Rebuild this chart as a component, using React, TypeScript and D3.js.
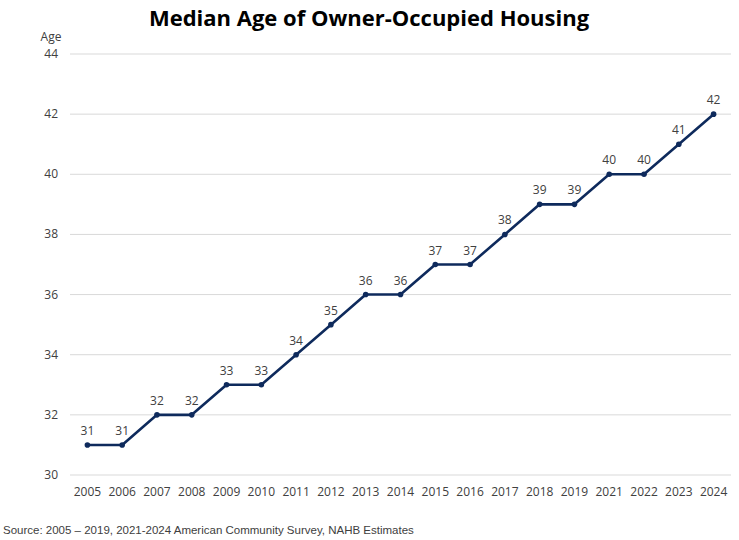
import React from "react";
import * as d3 from "d3";

const years = ["2005","2006","2007","2008","2009","2010","2011","2012","2013","2014","2015","2016","2017","2018","2019","2021","2022","2023","2024"];
const ages = [31,31,32,32,33,33,34,35,36,36,37,37,38,39,39,40,40,41,42];
const yTicks = [30,32,34,36,38,40,42,44];

const W = 739, H = 540;
const left = 70, right = 731, top = 54, bottom = 475;
const font = "Open Sans, Lato, sans-serif";

export default function App() {
  const x = d3.scaleBand<string>().domain(years).range([left, right]).paddingInner(0).paddingOuter(0);
  const y = d3.scaleLinear().domain([30, 44]).range([bottom, top]);
  const cx = (d: string) => (x(d) as number) + x.bandwidth() / 2;
  const line = d3.line<number>().x((_, i) => cx(years[i])).y((d) => y(d));
  return (
    <svg width={W} height={H} style={{ position: "absolute", left: 0, top: 0, background: "#fff" }}>
      <text x={369} y={26} textAnchor="middle" fontFamily={font} fontWeight="bold" fontSize={22} fill="#000">Median Age of Owner-Occupied Housing</text>
      <text x={51} y={41} textAnchor="middle" fontFamily={font} fontSize={12} fill="#404040">Age</text>
      {yTicks.map((t) => (
        <g key={t}>
          <line x1={left} x2={right} y1={y(t)} y2={y(t)} stroke="#d9d9d9" strokeWidth={1} />
          <text x={58} y={y(t) + 4} textAnchor="end" fontFamily={font} fontSize={12} fill="#404040">{t}</text>
        </g>
      ))}
      {years.map((yr) => (
        <text key={yr} x={cx(yr)} y={496} textAnchor="middle" fontFamily={font} fontSize={12} fill="#404040">{yr}</text>
      ))}
      <path d={line(ages) || ""} fill="none" stroke="#0e2a5c" strokeWidth={2.6} strokeLinejoin="round" />
      {ages.map((a, i) => (
        <g key={i}>
          <circle cx={cx(years[i])} cy={y(a)} r={2.8} fill="#0e2a5c" />
          <text x={cx(years[i])} y={y(a) - 10} textAnchor="middle" fontFamily={font} fontSize={12} fill="#404040">{a}</text>
        </g>
      ))}
      <text x={3} y={534} fontFamily="Liberation Sans, Arial, sans-serif" fontSize={11.5} fill="#404040">Source: 2005 – 2019, 2021-2024 American Community Survey, NAHB Estimates</text>
    </svg>
  );
}
